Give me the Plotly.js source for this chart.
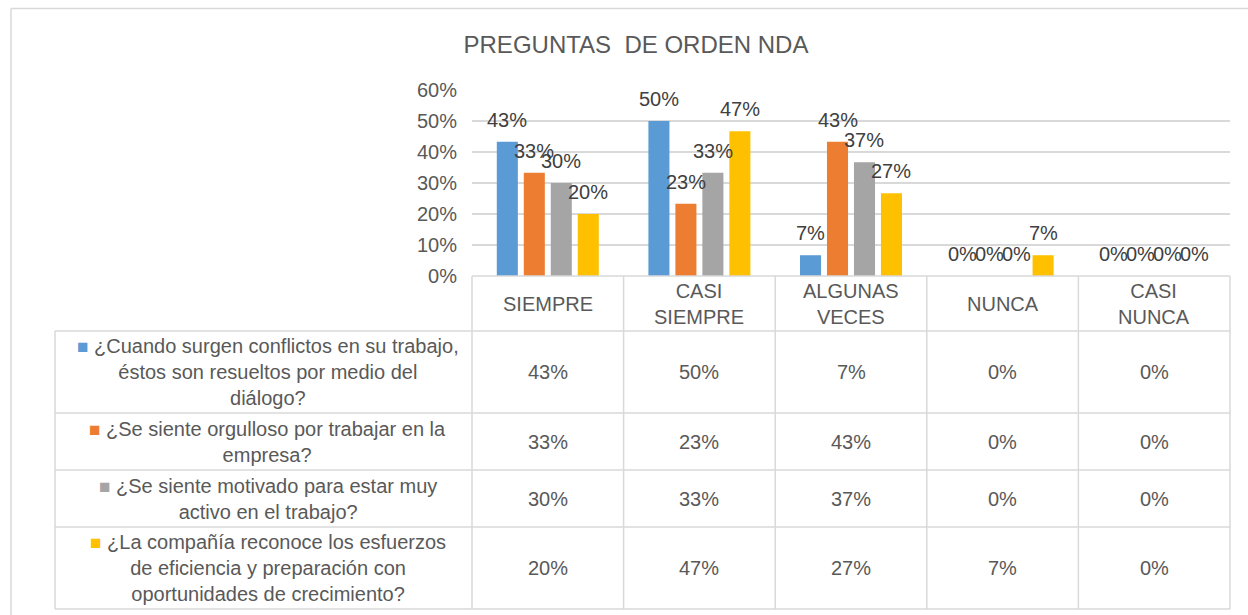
<!DOCTYPE html>
<html>
<head>
<meta charset="utf-8">
<script src="https://cdn.plot.ly/plotly-3.0.1.min.js"></script>
<style>html,body{margin:0;padding:0;background:#fff;}#chart{width:1248px;height:615px;}</style>
</head>
<body>
<div id="chart"></div>
<script>
// ---- data ----
const categories = ['SIEMPRE', 'CASI SIEMPRE', 'ALGUNAS VECES', 'NUNCA', 'CASI NUNCA'];
const headerLabels = ['SIEMPRE', 'CASI<br>SIEMPRE', 'ALGUNAS<br>VECES', 'NUNCA', 'CASI<br>NUNCA'];
const seriesNames = [
  '¿Cuando surgen conflictos en su trabajo, éstos son resueltos por medio del diálogo?',
  '¿Se siente orgulloso por trabajar en la empresa?',
  '¿Se siente motivado para estar muy activo en el trabajo?',
  '¿La compañía reconoce los esfuerzos de eficiencia y preparación con oportunidades de crecimiento?'
];
const seriesLabels = [
  '¿Cuando surgen conflictos en su trabajo,<br>éstos son resueltos por medio del<br>diálogo?',
  '¿Se siente orgulloso por trabajar en la<br>empresa?',
  '¿Se siente motivado para estar muy<br>activo en el trabajo?',
  '¿La compañía reconoce los esfuerzos<br>de eficiencia y preparación con<br>oportunidades de crecimiento?'
];
const conflictos = [0.433, 0.500, 0.067, 0.000, 0.000];
const orgulloso  = [0.333, 0.233, 0.433, 0.000, 0.000];
const motivado   = [0.300, 0.333, 0.367, 0.000, 0.000];
const reconoce   = [0.200, 0.467, 0.267, 0.067, 0.000];
const yTickVals  = [0, 0.1, 0.2, 0.3, 0.4, 0.5, 0.6];
const chartTitle = 'PREGUNTAS  DE ORDEN NDA';

// ---- styling ----
const seriesValues = [conflictos, orgulloso, motivado, reconoce];
const colors = ['#5B9BD5', '#ED7D31', '#A5A5A5', '#FFC000'];
const FONT = '"Liberation Sans", Arial, sans-serif';
const TXT = '#595959';
const GRID = '#d9d9d9';
const FS = 20;

const W = 1248, H = 615;
const M = {l: 472, r: 18, t: 90, b: 339};
const plotW = W - M.l - M.r, plotH = H - M.t - M.b;
const bargap = 0.288, bargroupgap = 0.22;
const px = x => (x - M.l) / plotW;
const py = y => (M.t + plotH - y) / plotH;
const fmt = v => Math.round(v * 100) + '%';

const traces = seriesValues.map((vals, i) => ({
  type: 'bar',
  name: seriesNames[i],
  x: categories,
  y: vals,
  marker: {color: colors[i]},
  hoverinfo: 'x+y+name'
}));

const annotations = [];
const shapes = [];

// data labels above bars
const slot = plotW / categories.length * (1 - bargap) / seriesValues.length;
seriesValues.forEach((vals, i) => {
  vals.forEach((v, j) => {
    annotations.push({
      x: categories[j], y: v, xref: 'x', yref: 'y',
      text: fmt(v), showarrow: false,
      xshift: (i - (seriesValues.length - 1) / 2) * slot,
      yshift: 22, yanchor: 'middle', xanchor: 'center',
      font: {family: FONT, size: FS, color: '#404040'}
    });
  });
});

// table geometry (pixels)
const tableLeft = 55;
const colW = plotW / categories.length;
const colX = categories.map((c, j) => M.l + j * colW);
const rowY = [276, 331, 413, 470, 527, 609];
const lineStyle = {color: GRID, width: 1.5};
const addLine = (x0, y0, x1, y1) => shapes.push({
  type: 'line', xref: 'paper', yref: 'paper',
  x0: px(x0), y0: py(y0), x1: px(x1), y1: py(y1), line: lineStyle
});
addLine(M.l, rowY[0], M.l + plotW, rowY[0]);
for (let r = 1; r < rowY.length; r++) addLine(tableLeft, rowY[r], M.l + plotW, rowY[r]);
addLine(tableLeft, rowY[1], tableLeft, rowY[rowY.length - 1]);
for (let j = 0; j <= categories.length; j++) {
  const x = M.l + j * colW;
  addLine(x, rowY[0], x, rowY[rowY.length - 1]);
}
// outer chart border (left + top)
shapes.push({type: 'line', xref: 'paper', yref: 'paper', x0: px(11), y0: py(8.5), x1: px(W), y1: py(8.5), line: {color: GRID, width: 1.5}});
shapes.push({type: 'line', xref: 'paper', yref: 'paper', x0: px(11), y0: py(8.5), x1: px(11), y1: py(H), line: {color: GRID, width: 1.5}});

// header texts
headerLabels.forEach((lab, j) => {
  annotations.push({
    xref: 'paper', yref: 'paper', x: px(colX[j] + colW / 2), y: py((rowY[0] + rowY[1]) / 2),
    text: lab, showarrow: false, xanchor: 'center', yanchor: 'middle', align: 'center',
    font: {family: FONT, size: FS, color: TXT}
  });
});
// rows
seriesValues.forEach((vals, i) => {
  const yc = py((rowY[i + 1] + rowY[i + 2]) / 2);
  annotations.push({
    xref: 'paper', yref: 'paper', x: px((tableLeft + M.l) / 2 + 4), y: yc,
    text: '<span style="color:' + colors[i] + ';font-size:19px">■</span> ' + seriesLabels[i],
    showarrow: false, xanchor: 'center', yanchor: 'middle', align: 'center',
    font: {family: FONT, size: FS, color: TXT}
  });
  vals.forEach((v, j) => {
    annotations.push({
      xref: 'paper', yref: 'paper', x: px(colX[j] + colW / 2), y: yc,
      text: fmt(v), showarrow: false, xanchor: 'center', yanchor: 'middle',
      font: {family: FONT, size: FS, color: TXT}
    });
  });
});

const layout = {
  width: W, height: H,
  margin: M,
  paper_bgcolor: '#ffffff', plot_bgcolor: '#ffffff',
  title: {
    text: chartTitle, x: 636 / W, xanchor: 'center', xref: 'container',
    y: 1 - 45 / H, yanchor: 'middle', yref: 'container',
    font: {family: FONT, size: 24, color: TXT}
  },
  barmode: 'group', bargap: bargap, bargroupgap: bargroupgap,
  showlegend: false,
  xaxis: {type: 'category', showticklabels: false, showgrid: false, zeroline: false, showline: false, ticks: ''},
  yaxis: {
    range: [0, 0.6], tickvals: yTickVals, tickformat: '.0%',
    showgrid: true, gridcolor: GRID, gridwidth: 1.5, zeroline: false, showline: false, ticks: '',
    ticklabelstandoff: 14,
    tickfont: {family: FONT, size: FS, color: TXT}
  },
  shapes: shapes,
  annotations: annotations
};

Plotly.newPlot('chart', traces, layout, {displayModeBar: false, staticPlot: true});
</script>
</body>
</html>
